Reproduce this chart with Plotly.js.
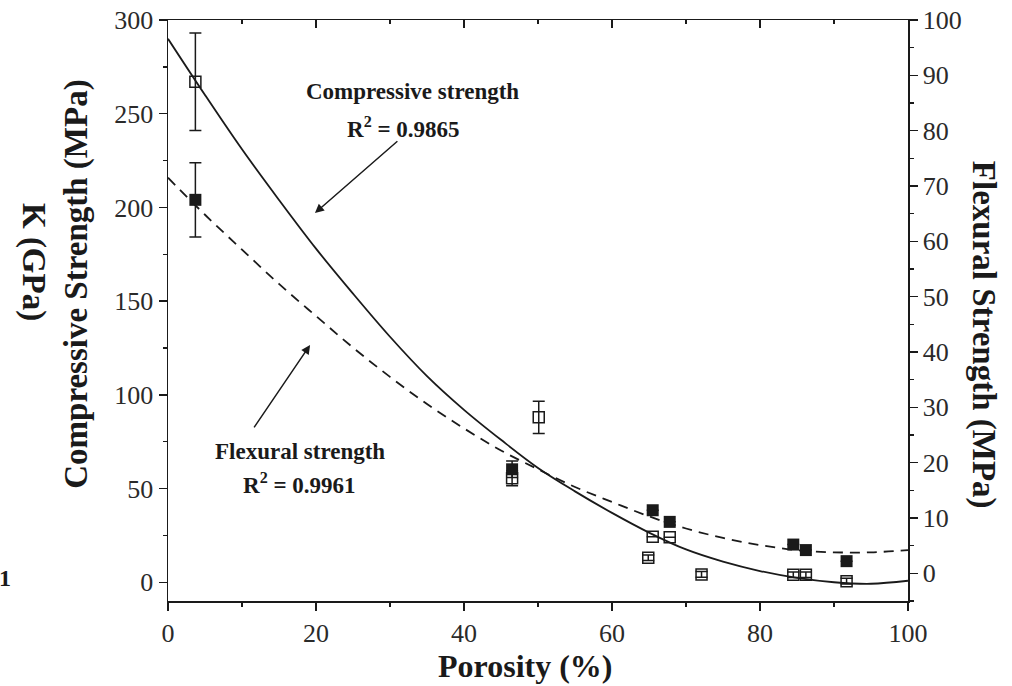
<!DOCTYPE html>
<html>
<head>
<meta charset="utf-8">
<script src="https://cdn.plot.ly/plotly-3.0.1.min.js"></script>
<style>html,body{margin:0;padding:0;background:#fff;}#chart{width:1012px;height:686px;}</style>
</head>
<body>
<div id="chart"></div>
<script>
// Compressive strength data (left axis, MPa) - open squares
const compX   = [3.7, 46.5, 50.1, 64.9, 65.5, 67.8, 72.1, 84.5, 86.2, 91.7];
const compY   = [267, 55.5, 88, 13.1, 24.3, 24.0, 4.2, 4.0, 4.0, 0.6];
const compErr = [26, 4, 8.6, 1.5, 0, 0, 1.5, 1.5, 1.5, 1.5];

// Flexural strength data (right axis, MPa) - filled squares
const flexX   = [3.7, 46.5, 65.5, 67.8, 84.5, 86.2, 91.7];
const flexY   = [67.5, 18.8, 11.4, 9.3, 5.2, 4.2, 2.2];
const flexErr = [6.7, 1.5, 0, 0, 0, 0, 0];

// Fitted curves
const fitX     = [0, 5, 10, 15, 20, 25, 30, 35, 40, 45, 50, 55, 60, 65, 70, 75, 80, 85, 90, 95, 100];
const compFitY = [290, 260, 231, 204, 178, 154, 131, 110, 92, 76, 61, 48.5, 37, 26.5, 17.5, 11, 6, 2.3, 0, -0.8, 0.8];
const flexFitY = [71.5, 64.8, 58.5, 52.3, 46.5, 40.8, 35.5, 30.6, 26.2, 22.2, 18.8, 15.6, 12.9, 10.3, 8.1, 6.4, 5.1, 4.2, 3.8, 3.8, 4.2];

const xTicks = [0, 20, 40, 60, 80, 100];
const yTicks = [0, 50, 100, 150, 200, 250, 300];
const y2Ticks = [0, 10, 20, 30, 40, 50, 60, 70, 80, 90, 100];

const SERIF = 'Liberation Serif, Times New Roman, serif';
const INK = '#1a1a1a';

const traces = [
  {x: fitX, y: compFitY, type: 'scatter', mode: 'lines', line: {color: INK, width: 1.8, shape: 'spline'}, xaxis: 'x', yaxis: 'y', hoverinfo: 'skip'},
  {x: fitX, y: flexFitY, type: 'scatter', mode: 'lines', line: {color: INK, width: 1.8, dash: '10px,7px', shape: 'spline'}, xaxis: 'x', yaxis: 'y2', hoverinfo: 'skip'},
  {x: compX, y: compY, type: 'scatter', mode: 'markers',
   marker: {symbol: 'square-open', size: 11, color: INK, line: {width: 1.5, color: INK}},
   error_y: {type: 'data', array: compErr, visible: true, color: INK, thickness: 1.5, width: 6},
   xaxis: 'x', yaxis: 'y'},
  {x: flexX, y: flexY, type: 'scatter', mode: 'markers',
   marker: {symbol: 'square', size: 12, color: INK, line: {width: 0}},
   error_y: {type: 'data', array: flexErr, visible: true, color: INK, thickness: 1.5, width: 6},
   xaxis: 'x', yaxis: 'y2'},
  {x: [0, 100], y: [0, 0], type: 'scatter', mode: 'markers', marker: {opacity: 0}, xaxis: 'x2', yaxis: 'y', hoverinfo: 'skip'}
];

const tickFont = {family: SERIF, size: 26, color: '#2a2a2a'};
const titleFont = {family: SERIF, size: 33, color: INK};
const noteFont = {family: SERIF, size: 23, color: INK};

function label(x, y, text, angle, font) {
  return {xref: 'paper', yref: 'paper', x: x, y: y, text: text, textangle: angle || 0,
          xanchor: 'center', yanchor: 'middle', showarrow: false, font: font};
}

const layout = {
  width: 1012, height: 686,
  margin: {l: 168, r: 104, t: 20, b: 85},
  paper_bgcolor: '#fff', plot_bgcolor: '#fff',
  showlegend: false,
  xaxis: {
    range: [0, 100], tickvals: xTicks, ticktext: xTicks.map(String), automargin: false,
    ticks: 'outside', ticklen: 8, tickwidth: 1.5, tickcolor: INK,
    minor: {dtick: 10, ticks: 'outside', ticklen: 4, tickwidth: 1.5, tickcolor: INK},
    showline: true, linecolor: INK, linewidth: 1.5, showgrid: false, zeroline: false,
    tickfont: tickFont
  },
  xaxis2: {
    overlaying: 'x', side: 'top', range: [0, 100], tickvals: xTicks, automargin: false,
    ticks: 'inside', ticklen: 8, tickwidth: 1.5, tickcolor: INK,
    minor: {dtick: 10, ticks: 'inside', ticklen: 4, tickwidth: 1.5, tickcolor: INK},
    showticklabels: false, showline: true, linecolor: INK, linewidth: 1.5, showgrid: false, zeroline: false
  },
  yaxis: {
    range: [-10, 300], tickvals: yTicks, ticktext: yTicks.map(String), automargin: false,
    ticks: 'outside', ticklen: 8, tickwidth: 1.5, tickcolor: INK,
    minor: {dtick: 25, ticks: 'outside', ticklen: 4, tickwidth: 1.5, tickcolor: INK},
    showline: true, linecolor: INK, linewidth: 1.5, showgrid: false, zeroline: false,
    tickfont: tickFont
  },
  yaxis2: {
    overlaying: 'y', side: 'right', range: [-5, 100], tickvals: y2Ticks, ticktext: y2Ticks.map(String), automargin: false,
    ticks: 'outside', ticklen: 8, tickwidth: 1.5, tickcolor: INK,
    minor: {dtick: 5, ticks: 'outside', ticklen: 4, tickwidth: 1.5, tickcolor: INK},
    showline: true, linecolor: INK, linewidth: 1.5, showgrid: false, zeroline: false,
    tickfont: tickFont
  },
  annotations: [
    {xref: 'x', yref: 'y', x: 33.0, y: 261.8, text: '<b>Compressive strength</b>', showarrow: false, font: noteFont},
    {xref: 'x', yref: 'y', x: 31.8, y: 242.9, text: '<b>R<sup>2</sup> = 0.9865</b>', showarrow: false, font: noteFont},
    {xref: 'x', yref: 'y', x: 19.86, y: 197.0, axref: 'x', ayref: 'y', ax: 31.2, ay: 236, text: '',
     showarrow: true, arrowhead: 2, arrowsize: 1.2, arrowwidth: 1.5, arrowcolor: INK},
    {xref: 'x', yref: 'y', x: 17.9, y: 69.6, text: '<b>Flexural strength</b>', showarrow: false, font: noteFont},
    {xref: 'x', yref: 'y', x: 17.8, y: 52.8, text: '<b>R<sup>2</sup> = 0.9961</b>', showarrow: false, font: noteFont},
    {xref: 'x', yref: 'y', x: 19.2, y: 126.6, axref: 'x', ayref: 'y', ax: 11.5, ay: 81.8, text: '',
     showarrow: true, arrowhead: 2, arrowsize: 1.2, arrowwidth: 1.5, arrowcolor: INK},
    label(0.4824, -0.112, '<b>Porosity (%)</b>', 0, {family: SERIF, size: 32, color: INK}),
    label(-0.123, 0.546, '<b>Compressive Strength (MPa)</b>', -90, titleFont),
    label(1.1014, 0.458, '<b>Flexural Strength (MPa)</b>', 90, titleFont),
    label(-0.1824, 0.5835, '<b>K (GPa)</b>', 90, titleFont),
    label(-0.2203, 0.0396, '<b>1</b>', 0, {family: SERIF, size: 24, color: INK})
  ]
};

Plotly.newPlot('chart', traces, layout, {displayModeBar: false, staticPlot: true});
</script>
</body>
</html>
